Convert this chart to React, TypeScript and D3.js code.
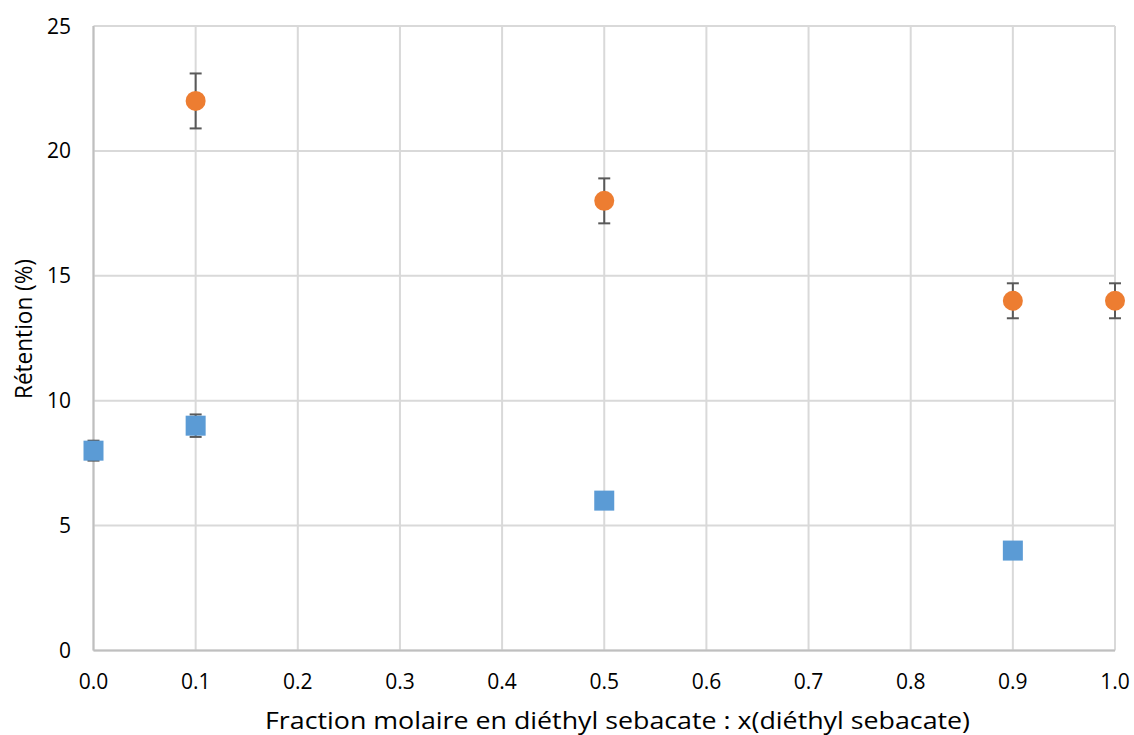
import React from "react";
import * as d3 from "d3";

const xTicks = [0, 0.1, 0.2, 0.3, 0.4, 0.5, 0.6, 0.7, 0.8, 0.9, 1.0];
const yTicks = [0, 5, 10, 15, 20, 25];

const orangeX = [0.1, 0.5, 0.9, 1.0];
const orangeY = [22, 18, 14, 14];
const orangeErr = [1.1, 0.9, 0.7, 0.7];

const blueX = [0.0, 0.1, 0.5, 0.9];
const blueY = [8, 9, 6, 4];
const blueErr = [0.4, 0.45, 0.3, 0.3];

const W = 1134, H = 735;
const left = 93.5, right = 1115, top = 26, bottom = 650.5;
const FONT = "'Open Sans', sans-serif";

export default function App() {
  const x = d3.scaleLinear().domain([0, 1]).range([left, right]);
  const y = d3.scaleLinear().domain([0, 25]).range([bottom, top]);
  const errColor = "#595959";
  const cap = 6;
  const errBars = (xs: number[], ys: number[], es: number[], key: string) =>
    xs.map((xv, i) => (
      <g key={key + i} stroke={errColor} strokeWidth={2}>
        <line x1={x(xv)} x2={x(xv)} y1={y(ys[i] + es[i])} y2={y(ys[i] - es[i])} />
        <line x1={x(xv) - cap} x2={x(xv) + cap} y1={y(ys[i] + es[i])} y2={y(ys[i] + es[i])} />
        <line x1={x(xv) - cap} x2={x(xv) + cap} y1={y(ys[i] - es[i])} y2={y(ys[i] - es[i])} />
      </g>
    ));
  return (
    <svg width={W} height={H} style={{ position: "absolute", left: 0, top: 0, background: "#fff" }}>
      <rect width={W} height={H} fill="#fff" />
      {yTicks.map((t) => (
        <line key={"gy" + t} x1={left} x2={right} y1={y(t)} y2={y(t)} stroke="#D9D9D9" strokeWidth={2} />
      ))}
      {xTicks.map((t) => (
        <line key={"gx" + t} x1={x(t)} x2={x(t)} y1={top} y2={bottom} stroke="#D9D9D9" strokeWidth={2} />
      ))}
      <line x1={left} x2={left} y1={top} y2={bottom} stroke="#BFBFBF" strokeWidth={2} />
      <line x1={left} x2={right} y1={bottom} y2={bottom} stroke="#BFBFBF" strokeWidth={2} />
      {yTicks.map((t) => (
        <text key={"ty" + t} x={71} y={y(t)} dy="0.36em" textAnchor="end" fontFamily={FONT} fontSize={21} fill="#000">
          {t}
        </text>
      ))}
      {xTicks.map((t) => (
        <text key={"tx" + t} x={x(t)} y={689} textAnchor="middle" fontFamily={FONT} fontSize={21} fill="#000">
          {t.toFixed(1)}
        </text>
      ))}
      <text x={617.5} y={729} textAnchor="middle" fontFamily={FONT} fontSize={24} fill="#000"
        textLength={705} lengthAdjust="spacingAndGlyphs">
        Fraction molaire en diéthyl sebacate : x(diéthyl sebacate)
      </text>
      <text transform={`translate(32,329) rotate(-90)`} textAnchor="middle" fontFamily={FONT} fontSize={24} fill="#000"
        textLength={140} lengthAdjust="spacingAndGlyphs">
        Rétention (%)
      </text>
      {errBars(blueX, blueY, blueErr, "be")}
      {blueX.map((xv, i) => (
        <rect key={"b" + i} x={x(xv) - 10} y={y(blueY[i]) - 10} width={20} height={20} fill="#5B9BD5" />
      ))}
      {errBars(orangeX, orangeY, orangeErr, "oe")}
      {orangeX.map((xv, i) => (
        <circle key={"o" + i} cx={x(xv)} cy={y(orangeY[i])} r={10} fill="#ED7D31" />
      ))}
    </svg>
  );
}
